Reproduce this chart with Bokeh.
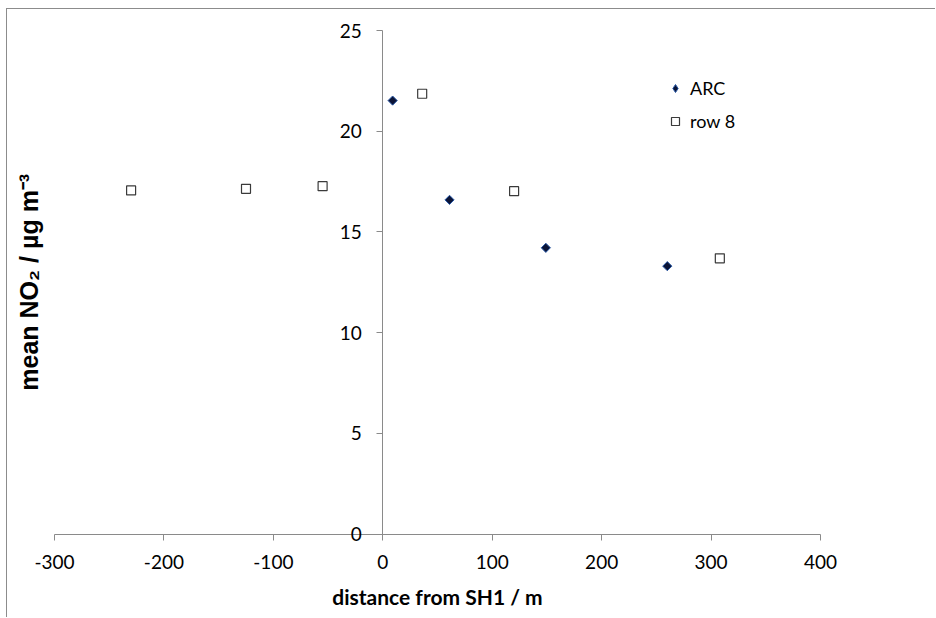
import math
from bokeh.plotting import figure
from bokeh.models import FixedTicker, Label, Legend, LegendItem, Range1d
from bokeh.embed import file_html
from bokeh.resources import INLINE

# Data
arc_x = [9, 61, 149, 260]
arc_y = [21.52, 16.59, 14.21, 13.30]
row8_x = [-230, -125, -55, 36, 120, 308]
row8_y = [17.06, 17.14, 17.27, 21.86, 17.02, 13.69]
x_ticks = [-300, -200, -100, 0, 100, 200, 300, 400]
y_ticks = [0, 5, 10, 15, 20, 25]
series_names = ["ARC", "row 8"]

AXIS_GREY = "#8a8a8a"

# ---- layout (pixels on the page) ----
FIG_LEFT, FIG_TOP = 7, 9          # where the figure content starts on the page
FIG_W, FIG_H = 936 - FIG_LEFT, 618 - FIG_TOP
AX_L, AX_R = 54, 820              # page x of the x-axis ends
AX_T, AX_B = 30, 533.5            # page y of the y-axis ends

x0, x1 = x_ticks[0], x_ticks[-1]
y0, y1 = y_ticks[0], y_ticks[-1]
xs = (x1 - x0) / (AX_R - AX_L)
ys = (y1 - y0) / (AX_B - AX_T)
xr = Range1d(x0 - (AX_L - FIG_LEFT) * xs, x1 + (FIG_LEFT + FIG_W - AX_R) * xs)
yr = Range1d(y0 - (FIG_TOP + FIG_H - AX_B) * ys, y1 + (AX_T - FIG_TOP) * ys)

p = figure(width=FIG_W, height=FIG_H, x_range=xr, y_range=yr,
           output_backend="svg", toolbar_location=None,
           min_border=0, min_border_left=0, min_border_right=0,
           min_border_top=0, min_border_bottom=0)
p.styles = {"margin-left": f"{FIG_LEFT - 1}px", "margin-top": f"{FIG_TOP - 1}px",
            "border-left": "1px solid #8c8c8c", "border-top": "1px solid #8c8c8c"}
p.outline_line_color = None
p.xgrid.visible = False
p.ygrid.visible = False
p.background_fill_color = "white"
p.border_fill_color = "white"

# x axis drawn at y = 0
xa = p.xaxis[0]
xa.fixed_location = 0
xa.bounds = (x0, x1)
xa.ticker = FixedTicker(ticks=x_ticks)
xa.major_label_overrides = {t: str(t) for t in x_ticks}
xa.minor_tick_line_color = None
xa.major_tick_in = 0
xa.major_tick_out = 6
xa.axis_line_color = AXIS_GREY
xa.major_tick_line_color = AXIS_GREY
xa.major_label_text_font = "Lato"
xa.major_label_text_font_size = "19px"
xa.major_label_text_color = "black"
xa.major_label_standoff = 15
xa.axis_label = "distance from SH1 / m"
xa.axis_label_text_font = "Lato"
xa.axis_label_text_font_style = "bold"
xa.axis_label_text_font_size = "21px"
xa.axis_label_text_color = "black"
xa.axis_label_standoff = 11

# y axis drawn at x = 0
ya = p.yaxis[0]
ya.fixed_location = 0
ya.bounds = (y0, y1)
ya.ticker = FixedTicker(ticks=y_ticks)
ya.major_label_overrides = {t: str(t) for t in y_ticks}
ya.minor_tick_line_color = None
ya.major_tick_in = 0
ya.major_tick_out = 6
ya.axis_line_color = AXIS_GREY
ya.major_tick_line_color = AXIS_GREY
ya.major_label_text_font = "Lato"
ya.major_label_text_font_size = "19px"
ya.major_label_text_color = "black"
ya.major_label_standoff = 15

ARC_STYLE = dict(fill_color="#0b1437", line_color="#2a5aa8", line_width=1)
ROW_STYLE = dict(fill_color="white", line_color="#3a3a3a", line_width=1.2)

r1 = p.scatter(arc_x, arc_y, marker="square", angle=math.pi / 4, size=6.5, **ARC_STYLE)
r2 = p.scatter(row8_x, row8_y, marker="square", size=9, **ROW_STYLE)

# legend keys (diamond drawn upright in the key, as in the reference)
k1 = p.scatter(arc_x, arc_y, marker="diamond", size=6.5, visible=False, **ARC_STYLE)
k2 = p.scatter(row8_x, row8_y, marker="square", size=9, visible=False, **ROW_STYLE)

legend = Legend(items=[LegendItem(label=series_names[0], renderers=[k1]),
                       LegendItem(label=series_names[1], renderers=[k2])],
                location=(665 - FIG_LEFT, FIG_TOP + FIG_H - 136),
                border_line_color=None,
                background_fill_alpha=0, padding=0, margin=0, spacing=3,
                glyph_width=20, glyph_height=30, label_height=30,
                label_standoff=5, label_text_font="Lato",
                label_text_font_size="18px", label_text_color="black")
p.add_layout(legend)

ytitle = Label(x=28 - FIG_LEFT, y=FIG_TOP + FIG_H - (AX_T + AX_B) / 2,
               x_units="screen", y_units="screen",
               text="mean NO₂ / µg m⁻³", angle=math.pi / 2,
               text_align="center", text_baseline="middle",
               text_font="Liberation Sans", text_font_style="bold",
               text_font_size="25px", text_color="black")
p.add_layout(ytitle)

open("out.html", "w").write(file_html(p, INLINE))
